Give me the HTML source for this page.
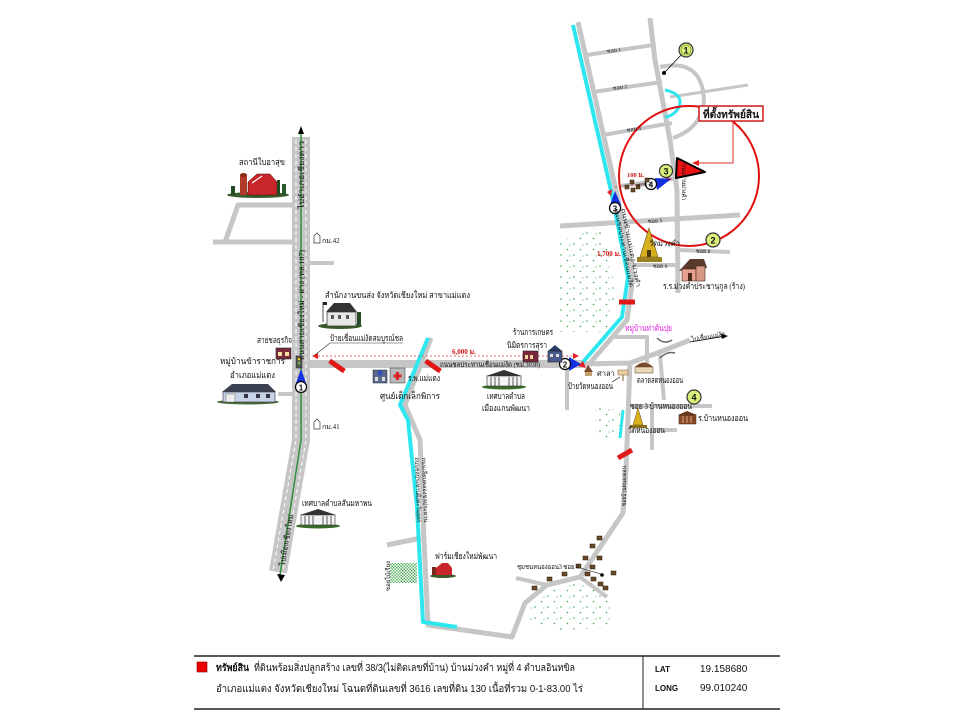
<!DOCTYPE html>
<html><head><meta charset="utf-8"><style>
html,body{margin:0;padding:0;background:#fff;}
svg{display:block}
text{font-family:"Liberation Serif","DejaVu Sans",serif;fill:#111;}
.s{font-family:"Liberation Sans","DejaVu Sans",sans-serif;}
</style></head><body>
<svg width="960" height="720" viewBox="0 0 960 720" xmlns="http://www.w3.org/2000/svg">
<defs>
<pattern id="dots" width="13" height="11" patternUnits="userSpaceOnUse">
<circle cx="2" cy="2" r="0.8" fill="#3aa64a"/>
<circle cx="8.5" cy="7.5" r="0.8" fill="#3aa64a"/>
<circle cx="11" cy="3" r="0.6" fill="#5ab86a"/>
</pattern>
<pattern id="hatch" width="3" height="3" patternUnits="userSpaceOnUse">
<rect width="3" height="3" fill="#fff"/>
<rect width="1.5" height="1.5" fill="#5fb56a"/>
<rect x="1.5" y="1.5" width="1.5" height="1.5" fill="#5fb56a"/>
</pattern>
</defs>
<rect width="960" height="720" fill="#fff"/>

<!-- dotted vegetation -->
<path d="M560,242 L598,226 L612,255 L614,300 L606,332 L560,332 Z" fill="url(#dots)"/>
<path d="M596,408 L620,410 L619,440 L596,440 Z" fill="url(#dots)"/>
<path d="M530,600 L550,588 L580,582 L600,592 L612,600 L610,628 L560,630 L530,625 Z" fill="url(#dots)"/>
<rect x="390" y="563" width="27" height="20" fill="url(#hatch)"/>

<!-- roads -->
<g fill="none" stroke="#c6c6c6" stroke-linejoin="round">
<polyline points="301,137 301,440 278,572" stroke-width="18"/>
<polyline points="293,205 238,205 225,242" stroke-width="5"/>
<polyline points="213,242 293,242" stroke-width="5"/>
<polyline points="310,263 334,263" stroke-width="4"/>
<polyline points="278,394 293,394" stroke-width="4"/>
<polyline points="309,364 583,364" stroke-width="8"/>
<polyline points="431,338 405,405 420,440 424,540 428,625 512,637 525,603 547,585 580,577 623,513 626,470 630,363" stroke-width="5"/>
<polyline points="387,545 421,538" stroke-width="5"/>
<polyline points="516,578 547,585" stroke-width="4"/>
<polyline points="580,577 607,597" stroke-width="4"/>
<polyline points="578,22 617,195 633,277 627,320 590,363" stroke-width="5"/>
<polyline points="583,364 630,363 660,352 690,340" stroke-width="5"/>
<polyline points="615,337 647,337 647,363" stroke-width="4"/>
<polyline points="660,355 664,400" stroke-width="4"/>
<polyline points="630,406 712,406" stroke-width="4"/>
<polyline points="652,406 652,450" stroke-width="4"/>
<polyline points="652,430 677,430" stroke-width="4"/>
<polyline points="567,364 567,410" stroke-width="4"/>
<polyline points="650,18 655,60 670,140 677,190 678,293" stroke-width="5"/>
<polyline points="587,55 653,45" stroke-width="4"/>
<polyline points="593,92 662,82" stroke-width="4"/>
<polyline points="603,135 672,123" stroke-width="4"/>
<polyline points="670,97 748,85" stroke-width="3"/>
<path d="M660,67 Q702,58 704,100 Q702,128 673,138" stroke-width="4"/>
<polyline points="620,186 678,178" stroke-width="4"/>
<polyline points="560,226 740,215" stroke-width="5"/>
<polyline points="678,250 730,252" stroke-width="4"/>
<polyline points="633,265 678,265" stroke-width="4"/>
</g>
<!-- main road markings -->
<polyline points="296,140 296,440 273,571" fill="none" stroke="#fff" stroke-width="1" stroke-dasharray="4,3"/>
<polyline points="306,140 306,440 283,571" fill="none" stroke="#fff" stroke-width="1" stroke-dasharray="4,3"/>
<polyline points="301,131 301,440 280,575" fill="none" stroke="#2f8f3a" stroke-width="1.5"/>
<polygon points="298,134 301,126 304,134" fill="#000"/>
<polygon points="277,574 281,582 285,575" fill="#000"/>

<!-- bridge symbol -->
<path d="M657,338 Q664,345 672,340 M660,358 Q667,351 675,353" fill="none" stroke="#666" stroke-width="1.5"/>
<line x1="690" y1="342" x2="726" y2="336" stroke="#000" stroke-width="0.8"/>
<polygon points="728,336 721,333.5 722,339" fill="#000"/>

<!-- rivers -->
<g fill="none" stroke="#2ee6ee" stroke-linejoin="round">
<polyline points="428,338 400,405 408,420 417,507 423,622 457,627" stroke-width="4"/>
<polyline points="573,25 612,195 628,277 622,317 583,362" stroke-width="4"/>
<path d="M665,90 Q684,94 679,107 Q674,116 665,117" stroke-width="3"/>
<polyline points="623,410 620,438" stroke-width="3"/>
</g>

<!-- red dashed distance lines -->
<line x1="314" y1="356" x2="574" y2="356" stroke="#e04040" stroke-width="0.8" stroke-dasharray="2,2"/>
<polygon points="312,356 318,353 318,359" fill="#e02020"/>
<polygon points="579,356 573,353 573,359" fill="#e02020"/>
<polygon points="583,361 578,366 586,368" fill="#e02020"/>
<line x1="615" y1="187" x2="652" y2="183" stroke="#e04040" stroke-width="0.8" stroke-dasharray="2,2"/>
<polygon points="607,192 612,189 611,196" fill="#e02020"/>
<polygon points="672,179 666,177 667,182" fill="#e02020"/>

<!-- red break marks -->
<g fill="#e01818">
<rect x="-2.5" y="-9" width="5" height="18" transform="translate(337,366) rotate(-55)"/>
<rect x="-2.5" y="-9" width="5" height="18" transform="translate(433,366) rotate(-55)"/>
<rect x="-8" y="-2.5" width="16" height="5" transform="translate(627,302)"/>
<rect x="-8" y="-2.5" width="16" height="5" transform="translate(625,454) rotate(-30)"/>
</g>

<!-- big red circle and target -->
<circle cx="689" cy="176" r="70" fill="none" stroke="#e01010" stroke-width="2"/>
<rect x="699" y="106" width="64" height="15" fill="#fff" stroke="#d01818" stroke-width="1.5"/>
<text x="731" y="118" font-size="10.5" font-weight="bold" text-anchor="middle" textLength="56" lengthAdjust="spacingAndGlyphs">ที่ตั้งทรัพย์สิน</text>
<polyline points="733,121 733,163 697,163" fill="none" stroke="#e03030" stroke-width="1"/>
<polygon points="692,163 699,160 699,166" fill="#e02020"/>
<polygon points="677,158 705,172 676,178" fill="#ee1111" stroke="#000" stroke-width="2" stroke-linejoin="round"/>

<!-- circle 1 top -->
<line x1="664" y1="73" x2="683" y2="53" stroke="#000" stroke-width="0.8"/>
<circle cx="664" cy="73" r="2" fill="#000"/>
<g font-size="9" font-weight="bold" text-anchor="middle" class="s">
<circle cx="686" cy="50" r="7" fill="#d8f07a" stroke="#333" stroke-width="1.2"/><circle cx="686" cy="50" r="5" fill="none" stroke="#6a8a2a" stroke-width="0.6"/>
<text x="686" y="53.5" class="s">1</text>
<circle cx="666" cy="171" r="6.5" fill="#d8f07a" stroke="#333" stroke-width="1.2"/>
<text x="666" y="174.5" class="s">3</text>
<polygon points="655,178 671,179 657,190" fill="#1330e0"/>
<circle cx="651" cy="184" r="5.5" fill="#fff" stroke="#000" stroke-width="1.2"/>
<text x="651" y="187.5" class="s" font-size="8">4</text>
<polygon points="610,205 615,191 621,205" fill="#1330e0"/>
<circle cx="615" cy="208" r="5.5" fill="#fff" stroke="#000" stroke-width="1.2"/>
<text x="615" y="211.5" class="s" font-size="8">3</text>
<circle cx="713" cy="240" r="7" fill="#d8f07a" stroke="#333" stroke-width="1.2"/>
<text x="713" y="243.5" class="s">2</text>
<polygon points="569,357 581,364 569,371" fill="#1330e0"/>
<circle cx="565" cy="364" r="5.5" fill="#fff" stroke="#000" stroke-width="1.2"/>
<text x="565" y="367.5" class="s" font-size="8">2</text>
<polygon points="296,383 301,369 306,383" fill="#1330e0"/>
<circle cx="301" cy="387" r="5.5" fill="#fff" stroke="#000" stroke-width="1.2"/>
<text x="301" y="390.5" class="s" font-size="8">1</text>
<circle cx="694" cy="397" r="7" fill="#d8f07a" stroke="#333" stroke-width="1.2"/>
<text x="694" y="400.5" class="s">4</text>
</g>

<!-- small village houses -->
<g fill="#6b4a2a" stroke="#2a1a0a" stroke-width="0.5">
<rect x="597" y="536" width="5" height="4"/><rect x="590" y="544" width="5" height="4"/>
<rect x="583" y="556" width="5" height="4"/><rect x="597" y="556" width="5" height="4"/>
<rect x="576" y="564" width="5" height="4"/><rect x="590" y="565" width="5" height="4"/>
<rect x="562" y="572" width="5" height="4"/><rect x="585" y="572" width="5" height="4"/>
<rect x="611" y="571" width="5" height="4"/><rect x="547" y="577" width="5" height="4"/>
<rect x="591" y="577" width="5" height="4"/><rect x="598" y="582" width="5" height="4"/>
<rect x="603" y="586" width="5" height="4"/><rect x="532" y="586" width="5" height="4"/>
<rect x="630" y="180" width="4" height="4"/><rect x="625" y="185" width="4" height="4"/>
<rect x="631" y="188" width="4" height="4"/><rect x="636" y="185" width="4" height="4"/>
<rect x="645" y="178" width="4" height="4"/>
</g>
<circle cx="602" cy="575" r="1.8" fill="#000"/>
<line x1="580" y1="568" x2="601" y2="574" stroke="#000" stroke-width="0.6"/>

<!-- ICONS -->
<ellipse cx="258" cy="195" rx="31" ry="3" fill="#3a5a2a"/>
<rect x="240" y="175" width="7" height="20" fill="#b03a2a"/>
<ellipse cx="243.5" cy="175" rx="3.5" ry="2" fill="#8a2a1a"/>
<polygon points="248,195 248,182 257,174 270,174 277,182 277,195" fill="#c8262a" stroke="#401010" stroke-width="0.5"/>
<line x1="252" y1="183" x2="262" y2="176" stroke="#fff" stroke-width="1.2"/>
<rect x="277" y="180" width="3" height="15" fill="#244a24"/><rect x="282" y="184" width="4" height="11" fill="#2a5a2a"/>
<rect x="231" y="186" width="4" height="9" fill="#244a24"/>

<ellipse cx="340" cy="326" rx="22" ry="3" fill="#3a5a2a"/>
<polygon points="326,312 334,303 350,303 357,312" fill="#333"/>
<rect x="327" y="312" width="29" height="14" fill="#e8e8e8" stroke="#333" stroke-width="0.7"/>
<rect x="331" y="315" width="3" height="4" fill="#555"/><rect x="338" y="315" width="3" height="4" fill="#555"/><rect x="346" y="315" width="3" height="4" fill="#555"/>
<line x1="323" y1="302" x2="323" y2="322" stroke="#222" stroke-width="0.8"/>
<rect x="323" y="302" width="4" height="3" fill="#222"/>
<rect x="357" y="312" width="4" height="13" fill="#2a4a2a"/>

<rect x="276" y="348" width="15" height="11" fill="#7a2a3a" stroke="#222" stroke-width="0.6"/>
<rect x="278" y="352" width="4" height="4" fill="#f4e0a0"/><rect x="285" y="352" width="4" height="4" fill="#f4e0a0"/>
<rect x="296" y="356" width="6" height="12" fill="#555" stroke="#222" stroke-width="0.5"/>
<circle cx="299" cy="359" r="1.3" fill="#e8d020"/><circle cx="299" cy="363" r="1.3" fill="#6ac040"/>

<ellipse cx="248" cy="402" rx="31" ry="2.5" fill="#4a6a3a"/>
<polygon points="222,392 232,384 268,384 276,392" fill="#3a4050"/>
<rect x="223" y="392" width="52" height="10" fill="#c7d2e6" stroke="#334" stroke-width="0.6"/>
<rect x="226" y="394" width="9" height="8" fill="#eee" stroke="#555" stroke-width="0.4"/>
<rect x="244" y="394" width="4" height="4" fill="#334"/><rect x="256" y="394" width="4" height="4" fill="#334"/><rect x="266" y="394" width="4" height="4" fill="#334"/>

<rect x="373" y="370" width="14" height="13" fill="#5a6a8a" stroke="#223" stroke-width="0.5"/>
<circle cx="380" cy="373" r="2.5" fill="#2a4ac0"/>
<rect x="375" y="377" width="3" height="4" fill="#ddd"/><rect x="382" y="377" width="3" height="4" fill="#ddd"/>
<rect x="390" y="368" width="15" height="15" fill="#b8b8b8" stroke="#333" stroke-width="0.5"/>
<rect x="396" y="372" width="3" height="8" fill="#e02020"/><rect x="393.5" y="374.5" width="8" height="3" fill="#e02020"/>

<ellipse cx="504" cy="387" rx="22" ry="2.5" fill="#3a6a2a"/>
<polygon points="486,376 504,370 522,376" fill="#333"/>
<rect x="487" y="376" width="34" height="10" fill="#f4f4f4" stroke="#333" stroke-width="0.6"/>
<g stroke="#333" stroke-width="0.8"><line x1="491" y1="377" x2="491" y2="386"/><line x1="495" y1="377" x2="495" y2="386"/><line x1="499" y1="377" x2="499" y2="386"/><line x1="509" y1="377" x2="509" y2="386"/><line x1="513" y1="377" x2="513" y2="386"/><line x1="517" y1="377" x2="517" y2="386"/></g>

<rect x="523" y="351" width="15" height="11" fill="#7a2a3a" stroke="#222" stroke-width="0.6"/>
<rect x="525" y="355" width="3" height="4" fill="#f0d8a0"/><rect x="530" y="355" width="3" height="4" fill="#f0d8a0"/>
<polygon points="548,351 555,345 562,351" fill="#2a3a6a"/>
<rect x="548" y="351" width="14" height="11" fill="#4a5a8a" stroke="#222" stroke-width="0.6"/>
<rect x="550" y="354" width="3" height="3" fill="#ddd"/><rect x="556" y="354" width="3" height="3" fill="#ddd"/>

<polygon points="584,372 588,365 593,372" fill="#7a4a2a"/>
<rect x="585" y="372" width="7" height="4" fill="#c8a070"/>
<rect x="618" y="370" width="10" height="5" fill="#e8d0a0" stroke="#7a5a2a" stroke-width="0.5"/>
<line x1="623" y1="375" x2="623" y2="381" stroke="#7a5a2a" stroke-width="1"/>
<line x1="612" y1="382" x2="620" y2="377" stroke="#000" stroke-width="0.6"/>
<path d="M635,367 Q644,358 653,367 Z" fill="#7a4a2a"/>
<rect x="635" y="367" width="18" height="6" fill="#e8d8b8" stroke="#5a3a1a" stroke-width="0.5"/>

<polygon points="638,408 633,425 643,425" fill="#d8b020" stroke="#6a5010" stroke-width="0.5"/>
<rect x="630" y="425" width="17" height="3" fill="#8a7020"/>
<polygon points="678,415 687,411 697,415" fill="#6a3a1a"/>
<rect x="679" y="415" width="17" height="9" fill="#8a4a2a" stroke="#3a1a0a" stroke-width="0.5"/>
<g stroke="#e8c090" stroke-width="0.8"><line x1="683" y1="416" x2="683" y2="423"/><line x1="687" y1="416" x2="687" y2="423"/><line x1="691" y1="416" x2="691" y2="423"/></g>

<polygon points="649,228 640,257 658,257" fill="#d8b020" stroke="#6a5010" stroke-width="0.6"/>
<rect x="637" y="257" width="25" height="5" fill="#9a8020"/>
<rect x="647" y="250" width="4" height="7" fill="#4a3a10"/>
<polygon points="679,271 690,259 704,259 707,268" fill="#5a3a2a"/>
<rect x="682" y="269" width="14" height="12" fill="#e8a090" stroke="#4a2a1a" stroke-width="0.6"/>
<rect x="696" y="266" width="9" height="15" fill="#d89888" stroke="#4a2a1a" stroke-width="0.6"/>
<rect x="688" y="273" width="4" height="8" fill="#4a2a1a"/>

<ellipse cx="443" cy="576" rx="13" ry="2" fill="#3a5a2a"/>
<polygon points="436,575 436,568 442,563 448,563 452,568 452,575" fill="#c8262a"/>
<rect x="432" y="567" width="4" height="8" fill="#7a2a1a"/>
<ellipse cx="318" cy="526" rx="22" ry="2.5" fill="#3a6a2a"/>
<polygon points="300,515 318,509 336,515" fill="#333"/>
<rect x="301" y="515" width="34" height="10" fill="#f4f4f4" stroke="#333" stroke-width="0.6"/>
<g stroke="#333" stroke-width="0.8"><line x1="305" y1="516" x2="305" y2="525"/><line x1="309" y1="516" x2="309" y2="525"/><line x1="313" y1="516" x2="313" y2="525"/><line x1="323" y1="516" x2="323" y2="525"/><line x1="327" y1="516" x2="327" y2="525"/><line x1="331" y1="516" x2="331" y2="525"/></g>

<path d="M314,243 L314,236 L317,233 L320,236 L320,243 Z" fill="#fff" stroke="#333" stroke-width="0.7"/>
<path d="M314,429 L314,422 L317,419 L320,422 L320,429 Z" fill="#fff" stroke="#333" stroke-width="0.7"/>

<line x1="330" y1="343" x2="403" y2="343" stroke="#333" stroke-width="0.6"/>
<line x1="330" y1="343" x2="315" y2="355" stroke="#333" stroke-width="0.6"/>

<!-- LABELS -->
<g font-size="8.5">
<text x="239" y="165" textLength="46" lengthAdjust="spacingAndGlyphs">สถานีใบอาสุข</text>
<text x="322" y="243" font-size="7">กม.42</text>
<text x="322" y="429" font-size="7">กม.41</text>
<text x="325" y="298" textLength="145" lengthAdjust="spacingAndGlyphs">สำนักงานขนส่ง  จังหวัดเชียงใหม่  สาขาแม่แตง</text>
<text x="330" y="341" textLength="73" lengthAdjust="spacingAndGlyphs">ป้ายเชื่อนแม่งัดสมบูรณ์ชล</text>
<text x="257" y="343" textLength="35" lengthAdjust="spacingAndGlyphs">สายชลธุรกิจ</text>
<text x="220" y="364" textLength="65" lengthAdjust="spacingAndGlyphs">หมู่บ้านข้าราชการ</text>
<text x="230" y="378" textLength="45" lengthAdjust="spacingAndGlyphs">อำเภอแม่แตง</text>
<text x="452" y="354" font-size="7" font-weight="bold" style="fill:#d01818">6,000 ม.</text>
<text x="440" y="367" font-size="7.5" textLength="100" lengthAdjust="spacingAndGlyphs">ถนนชลประทานเชื่อนแม่งัด (ชม.3038)</text>
<text x="408" y="381" textLength="32" lengthAdjust="spacingAndGlyphs">ร.พ.แม่แตง</text>
<text x="380" y="399" textLength="60" lengthAdjust="spacingAndGlyphs">ศูนย์เด็กเล็กพิการ</text>
<text x="487" y="399" textLength="38" lengthAdjust="spacingAndGlyphs">เทศบาลตำบล</text>
<text x="482" y="411" textLength="48" lengthAdjust="spacingAndGlyphs">เมืองแกนพัฒนา</text>
<text x="513" y="335" textLength="40" lengthAdjust="spacingAndGlyphs">ร้านการเกษตร</text>
<text x="507" y="348" textLength="40" lengthAdjust="spacingAndGlyphs">นิมิตรการสุรา</text>
<text x="597" y="376" font-size="7.5">ศาลา</text>
<text x="568" y="389" textLength="45" lengthAdjust="spacingAndGlyphs">ป้ายวัดหนองออน</text>
<text x="637" y="383" textLength="46" lengthAdjust="spacingAndGlyphs">ตลาดสดหนองออน</text>
<text x="630" y="409" textLength="62" lengthAdjust="spacingAndGlyphs">ซอย 3 บ้านหนองออน</text>
<text x="698" y="421" textLength="50" lengthAdjust="spacingAndGlyphs">ร.บ้านหนองออน</text>
<text x="628" y="433" textLength="37" lengthAdjust="spacingAndGlyphs">วัดหนองออน</text>
<text x="625" y="331" textLength="47" lengthAdjust="spacingAndGlyphs" style="fill:#e020e0">หมู่บ้านท่าต้นปุย</text>
<text x="692" y="342" font-size="7" textLength="34" lengthAdjust="spacingAndGlyphs" transform="rotate(-10 692 342)">ไปเชื่อนแม่งัด</text>
<text x="597" y="256" font-size="7" font-weight="bold" style="fill:#d01818">1,700 ม.</text>
<text x="649" y="246" font-size="8" textLength="31" lengthAdjust="spacingAndGlyphs">วัดม่วงคำ</text>
<text x="663" y="289" textLength="82" lengthAdjust="spacingAndGlyphs">ร.ร.ม่วงคำประชานุกูล (ร้าง)</text>
<text x="302" y="506" textLength="70" lengthAdjust="spacingAndGlyphs">เทศบาลตำบลสันมหาพน</text>
<text x="435" y="559" textLength="62" lengthAdjust="spacingAndGlyphs">ฟาร์มเชียงใหม่พัฒนา</text>
<text x="517" y="569" font-size="7" textLength="62" lengthAdjust="spacingAndGlyphs">ชุมชนหนองออน3 ซอย 4</text>
<text x="627" y="177" font-size="6.5" font-weight="bold" style="fill:#d01818">100 ม.</text>
</g>
<g font-size="5.5">
<text x="607" y="53" transform="rotate(-8 607 53)">ซอย 1</text>
<text x="613" y="90" transform="rotate(-8 613 90)">ซอย 2</text>
<text x="627" y="132" transform="rotate(-9 627 132)">ซอย 3</text>
<text x="637" y="187" transform="rotate(-7 637 187)">ซอย 4</text>
<text x="648" y="223" transform="rotate(-3 648 223)">ซอย 5</text>
<text x="653" y="268">ซอย 6</text>
<text x="696" y="253">ซอย 8</text>
</g>
<g font-size="7.5">
<text x="301" y="178" text-anchor="middle" textLength="68" lengthAdjust="spacingAndGlyphs" transform="rotate(-90 301 175)">ไปอำเภอเชียงดาว</text>
<text x="301" y="308" text-anchor="middle" textLength="110" lengthAdjust="spacingAndGlyphs" transform="rotate(-90 301 305)">ถนนสายเชียงใหม่ - ฝาง (ทล.107)</text>
<text x="286" y="543" text-anchor="middle" textLength="52" lengthAdjust="spacingAndGlyphs" transform="rotate(-80 286 540)">ไปเมืองเชียงใหม่</text>
<text x="416" y="490" font-size="6" text-anchor="middle" textLength="65" lengthAdjust="spacingAndGlyphs" transform="rotate(88 416 490)">ถนนชลประทานฝั่งตะวันออก</text>
<text x="423" y="490" font-size="6" text-anchor="middle" textLength="65" lengthAdjust="spacingAndGlyphs" transform="rotate(88 423 490)">ถนนเลียบคลองชลประทาน</text>
<text x="622" y="248" font-size="6" text-anchor="middle" textLength="80" lengthAdjust="spacingAndGlyphs" transform="rotate(79 622 248)">ถนนชลประทานเชื่อนแม่งัด</text>
<text x="629" y="248" font-size="6" text-anchor="middle" textLength="80" lengthAdjust="spacingAndGlyphs" transform="rotate(79 629 248)">ถนนข้ามแม่แตง-ม่วงคำ</text>
<text x="682" y="182" font-size="6" text-anchor="middle" textLength="36" lengthAdjust="spacingAndGlyphs" transform="rotate(90 682 182)">ถนนบ้านม่วงคำ</text>
<text x="626" y="486" font-size="6" text-anchor="middle" textLength="40" lengthAdjust="spacingAndGlyphs" transform="rotate(-90 626 486)">ซอยบ้านหนองออน</text>
<text x="390" y="576" font-size="6" text-anchor="middle" textLength="30" lengthAdjust="spacingAndGlyphs" transform="rotate(-90 390 576)">ซอยไม้เรียง</text>
</g>

<!-- LEGEND -->
<line x1="194" y1="656" x2="780" y2="656" stroke="#222" stroke-width="1.5"/>
<line x1="194" y1="709" x2="780" y2="709" stroke="#222" stroke-width="1.5"/>
<line x1="643" y1="656" x2="643" y2="709" stroke="#222" stroke-width="1"/>
<rect x="197" y="662" width="10" height="10" fill="#e00" stroke="#800" stroke-width="0.6"/>
<g class="s" font-size="10">
<text x="216" y="671" class="s" font-weight="bold" textLength="33" lengthAdjust="spacingAndGlyphs">ทรัพย์สิน</text>
<text x="254" y="671" class="s" textLength="321" lengthAdjust="spacingAndGlyphs">ที่ดินพร้อมสิ่งปลูกสร้าง เลขที่ 38/3(ไม่ติดเลขที่บ้าน) บ้านม่วงคำ หมู่ที่ 4 ตำบลอินทขิล</text>
<text x="216" y="692" class="s" textLength="367" lengthAdjust="spacingAndGlyphs">อำเภอแม่แตง จังหวัดเชียงใหม่ โฉนดที่ดินเลขที่ 3616 เลขที่ดิน 130 เนื้อที่รวม 0-1-83.00 ไร่</text>
<text x="655" y="672" class="s" font-size="8" font-weight="bold">LAT</text>
<text x="655" y="691" class="s" font-size="8" font-weight="bold">LONG</text>
<text x="700" y="672" class="s" font-size="10">19.158680</text>
<text x="700" y="691" class="s" font-size="10">99.010240</text>
</g>
</svg>
</body></html>
